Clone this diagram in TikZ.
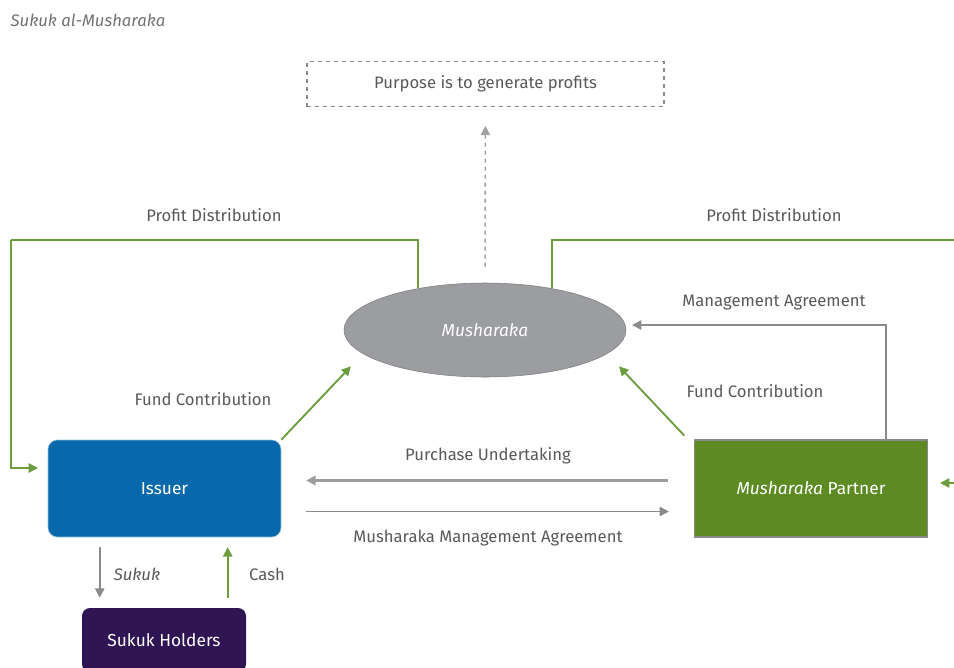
\documentclass[tikz,border=0pt]{standalone}
\usepackage{fontspec}
\setmainfont{Fira Sans}
\usetikzlibrary{arrows.meta,calc,shapes.geometric}
\definecolor{issuerblue}{HTML}{0868AC}
\definecolor{partnergreen}{HTML}{5E8A24}
\definecolor{holderpurple}{HTML}{2F1553}
\definecolor{mushgray}{HTML}{9B9DA0}
\definecolor{linegreen}{HTML}{6B9C3E}
\definecolor{linegray}{HTML}{8A8A8A}
\definecolor{txtgray}{HTML}{595959}
\newcommand{\lblfont}{\fontsize{12.5}{14}\selectfont}
\newcommand{\boxfont}{\fontsize{13}{15}\selectfont}
\tikzset{
  lbl/.style={text=txtgray, font=\lblfont},
  party/.style={minimum width=174.75pt, minimum height=72.75pt, text=white,
    font=\boxfont, inner sep=0pt},
  gline/.style={draw=linegreen, line width=1.4pt},
  garrow/.style={gline, -{Triangle[length=7pt,width=7pt]}},
  glinegray/.style={draw=linegray, line width=1.2pt},
  grarrow/.style={glinegray, -{Triangle[length=7pt,width=7pt]}},
}
\begin{document}
\begin{tikzpicture}[x=0.75pt,y=-0.75pt]
\useasboundingbox (0,0) rectangle (954,668);

% title
\node[lbl, anchor=west, text=txtgray!85, font=\lblfont\itshape] (title) at (6,20) {Sukuk al-Musharaka};

% main nodes
\node[draw=linegray, dashed, line width=0.9pt, minimum width=267.75pt, minimum height=33.75pt, lbl] (purpose) at (485.5,84) {Purpose is to generate profits};
\node[ellipse, draw=linegray!90!black, fill=mushgray, minimum width=211.5pt, minimum height=70.5pt, text=white, font=\boxfont\itshape] (mush) at (485,330) {Musharaka};
\node[party, fill=issuerblue, draw=issuerblue!40!white, rounded corners=7pt] (issuer) at (164.5,488.5) {Issuer};
\node[party, fill=partnergreen, draw=linegray, line width=0.8pt] (partner) at (811,488.5) {\textit{Musharaka} Partner};
\node[party, fill=holderpurple, minimum width=123pt, minimum height=48pt, rounded corners=6pt] (holders) at (164,640) {Sukuk Holders};

% bends and free ends
\coordinate (pdL) at (11,240);
\coordinate (pdLend) at (38,468);
\coordinate (pdR) at (956,240);
\coordinate (pinR) at (956,483);
\coordinate (mgEnd) at (632,325);
\coordinate (mgStart) at ($(partner.north west)+(192,0)$);
\coordinate (skTop) at ($(issuer.south west)+(52,0)$);
\coordinate (cashTop) at ($(issuer.south west)+(180,0)$);

% profit distribution
\draw[gline] (mush.148) |- (pdL);
\draw[garrow] (pdL) |- (pdLend);
\draw[gline] (mush.32) |- (pdR);
\draw[garrow, shorten >=9pt] (pinR) -- (pinR -| partner.east);
\node[lbl] (pdLlbl) at (214,215) {Profit Distribution};
\node[lbl] (pdRlbl) at (774,215) {Profit Distribution};

% purpose
\draw[grarrow, draw=linegray!80, dashed, shorten <=12pt, shorten >=14pt] (mush.north) -- (purpose.south);

% management agreement
\draw[grarrow] (mgStart) |- (mgEnd);
\node[lbl] (mglbl) at (774,303) {Management Agreement};

% fund contribution
\draw[garrow, shorten >=13pt] (issuer.north east) -- (mush.191);
\draw[garrow, shorten <=4pt, shorten >=13pt] ($(partner.north west)+(-6,0)$) -- (mush.349);
\node[lbl] (fcL) at (203,399) {Fund Contribution};
\node[lbl] (fcR) at (755,391) {Fund Contribution};

% issuer <-> partner
\draw[grarrow, line width=2pt, draw=linegray!85, shorten <=19.5pt, shorten >=18.75pt] ($(partner.west)+(0,-8)$) -- ($(issuer.east)+(0,-8)$);
\draw[grarrow, shorten <=18.75pt, shorten >=18.75pt] ($(issuer.east)+(0,23)$) -- ($(partner.west)+(0,23)$);
\node[lbl] (pulbl) at (488,456) {Purchase Undertaking};
\node[lbl] (mmalbl) at (488,538) {Musharaka Management Agreement};

% issuer <-> sukuk holders
\draw[grarrow, shorten <=7.5pt, shorten >=7.5pt] (skTop) -- (skTop |- holders.north);
\draw[garrow, shorten <=7.5pt, shorten >=7.5pt] (cashTop |- holders.north) -- (cashTop);
\node[lbl, font=\lblfont\itshape] (sukuklbl) at (137,574) {Sukuk};
\node[lbl] (cashlbl) at (267,574) {Cash};
\end{tikzpicture}
\end{document}
